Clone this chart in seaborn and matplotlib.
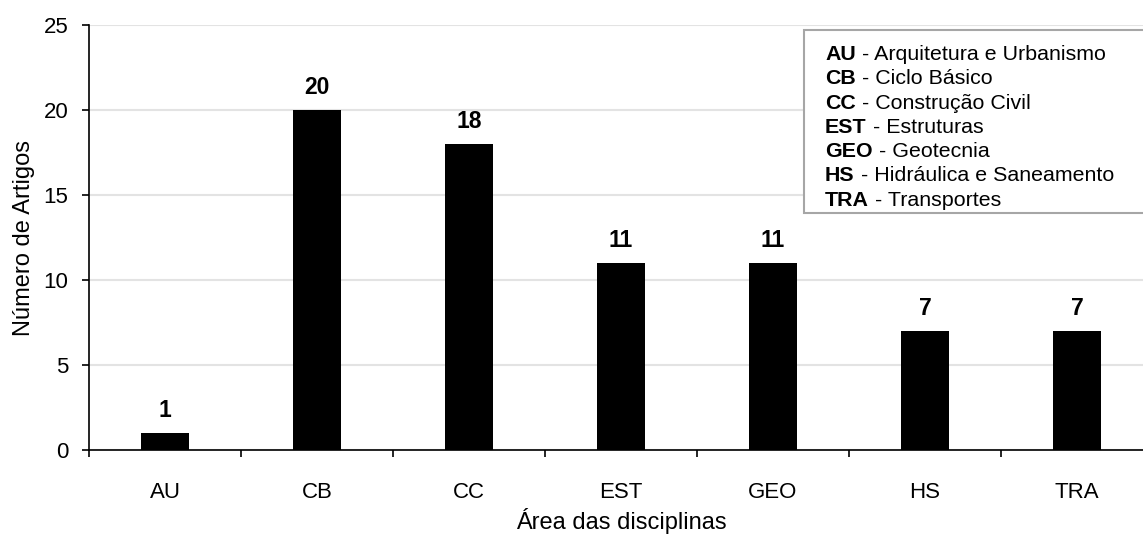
import matplotlib
matplotlib.use("Agg")
import matplotlib.pyplot as plt
import seaborn as sns
import pandas as pd
from matplotlib.offsetbox import TextArea, HPacker, VPacker, AnchoredOffsetbox
from matplotlib.patches import Rectangle

categories = ["AU", "CB", "CC", "EST", "GEO", "HS", "TRA"]
values = [1, 20, 18, 11, 11, 7, 7]
legend_abbr = ["AU", "CB", "CC", "EST", "GEO", "HS", "TRA"]
legend_names = ["Arquitetura e Urbanismo", "Ciclo Básico", "Construção Civil",
                "Estruturas", "Geotecnia", "Hidráulica e Saneamento", "Transportes"]

sns.set_theme(style="white")
plt.rcParams['font.family'] = ['Liberation Sans', 'DejaVu Sans']
plt.rcParams['text.color'] = 'black'
plt.rcParams['axes.labelcolor'] = 'black'
plt.rcParams['xtick.color'] = 'black'
plt.rcParams['ytick.color'] = 'black'

W, H = 1143, 537
fig = plt.figure(figsize=(W / 100, H / 100), dpi=100)
ax = fig.add_axes([89 / W, (H - 450) / H, (1153 - 89) / W, (450 - 25) / H])

df = pd.DataFrame({"cat": categories, "val": values})
sns.barplot(data=df, x="cat", y="val", color="black", width=0.315,
            saturation=1, ax=ax, zorder=3, linewidth=0)

ax.set_xlim(-0.5, len(categories) - 0.5)
ax.set_ylim(0, 25)
ax.set_yticks([0, 5, 10, 15, 20, 25])
ax.yaxis.grid(True, color="#e3e3e3", linewidth=1.5, zorder=0)
ax.set_axisbelow(True)

# category labels as minor ticks, tick marks at boundaries
ax.set_xticks([i - 0.5 for i in range(len(categories) + 1)])
ax.set_xticklabels([])
ax.set_xticks(range(len(categories)), minor=True)
ax.set_xticklabels(categories, minor=True)
ax.tick_params(axis="x", which="major", direction="out", length=5, width=1.2,
               color="black", bottom=True)
ax.tick_params(axis="x", which="minor", length=0, pad=23, labelsize=16)
ax.tick_params(axis="y", direction="out", length=5, width=1.2, color="black",
               left=True, labelsize=16, pad=10)

for s in ["top", "right"]:
    ax.spines[s].set_visible(False)
for s in ["left", "bottom"]:
    ax.spines[s].set_color("black")
    ax.spines[s].set_linewidth(1.2)

for i, v in enumerate(values):
    ax.annotate(str(v), (i, v), xytext=(0, 8), textcoords="offset points",
                ha="center", va="bottom", fontsize=16.5, fontweight="bold")

ax.set_xlabel("Área das disciplinas", fontsize=17, labelpad=4)
ax.set_ylabel("Número de Artigos", fontsize=17, labelpad=6)

# legend-like text box
fig.patches.append(Rectangle((804 / W, 1 - 213 / H), (1160 - 804) / W, (213 - 30) / H,
                             transform=fig.transFigure, facecolor="white",
                             edgecolor="#a6a6a6", linewidth=1.5, zorder=5))
rows = []
for a, n in zip(legend_abbr, legend_names):
    rows.append(HPacker(children=[
        TextArea(a, textprops=dict(fontsize=15.4, fontweight="bold", color="black")),
        TextArea(" - " + n, textprops=dict(fontsize=15.4, color="black"))],
        align="baseline", pad=0, sep=0))
box = VPacker(children=rows, align="left", pad=0, sep=3.8)
anch = AnchoredOffsetbox(loc="upper left", child=box, pad=0, borderpad=0,
                         frameon=False, bbox_to_anchor=(825 / W, 1 - 45 / H),
                         bbox_transform=fig.transFigure)
anch.set_zorder(6)
fig.add_artist(anch)

fig.savefig("out.png", dpi=100)
